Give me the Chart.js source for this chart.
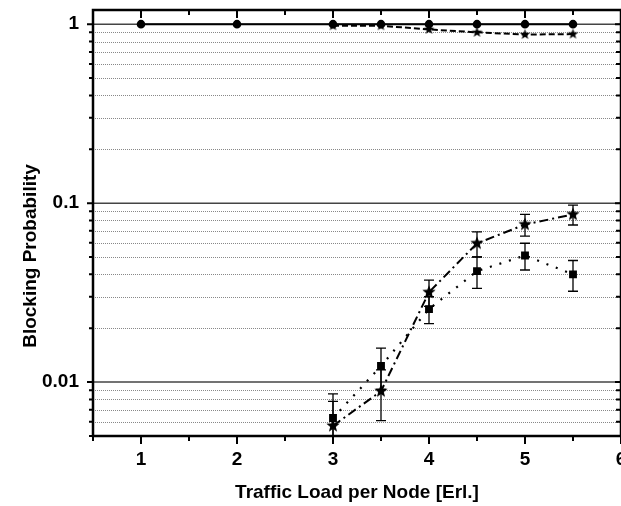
<!DOCTYPE html>
<html>
<head>
<meta charset="utf-8">
<script src="https://cdn.jsdelivr.net/npm/chart.js@4/dist/chart.umd.min.js"></script>
<style>
  body { margin: 0; background: #fff; }
  canvas { display: block; }
</style>
</head>
<body>
<canvas id="chart" width="621" height="506"></canvas>
<script>
// data
const loads = [1, 2, 3, 3.5, 4, 4.5, 5, 5.5];
const upperLoads = [3, 3.5, 4, 4.5, 5, 5.5];
const lowerLoads = [3, 3.5, 4, 4.5, 5, 5.5];

const circleSeries = [1, 1, 1, 1, 1, 1, 1, 1];
const upperStarSeries = [0.98, 0.98, 0.935, 0.9, 0.875, 0.88];
const lowerStarSeries = [0.0057, 0.0089, 0.0318, 0.0596, 0.076, 0.0865];
const squareSeries = [0.0063, 0.0123, 0.0256, 0.0417, 0.051, 0.040];

const lowerStarErr = [0.0021, 0.0028, 0.0053, 0.0095, 0.0105, 0.011];
const squareErr = [0.0023, 0.0032, 0.0044, 0.0083, 0.0087, 0.0078];

const xTicks = [1, 2, 3, 4, 5, 6];
const xMinorTicks = [0.5, 1.5, 2.5, 3.5, 4.5, 5.5];
const yMajorTicks = [0.01, 0.1, 1];
const yTickLabels = ['0.01', '0.1', '1'];
const yMinorTicks = [0.005, 0.006, 0.007, 0.008, 0.009,
                     0.02, 0.03, 0.04, 0.05, 0.06, 0.07, 0.08, 0.09,
                     0.2, 0.3, 0.4, 0.5, 0.6, 0.7, 0.8, 0.9];

const FONT = "'Liberation Sans', Arial, sans-serif";

function makeStar(r) {
    const c = document.createElement('canvas');
    const s = Math.ceil(r * 2 + 2);
    c.width = s; c.height = s;
    const g = c.getContext('2d');
    g.beginPath();
    for (let i = 0; i < 10; i++) {
        const rad = i % 2 === 0 ? r : r * 0.42;
        const a = -Math.PI / 2 + i * Math.PI / 5;
        const px = s / 2 + rad * Math.cos(a);
        const py = s / 2 + rad * Math.sin(a);
        if (i === 0) g.moveTo(px, py); else g.lineTo(px, py);
    }
    g.closePath();
    g.fillStyle = '#000';
    g.fill();
    return c;
}

const toXY = (xs, ys) => xs.map((x, i) => ({ x: x, y: ys[i] }));

const frame = {
    id: 'frame',
    beforeDatasetsDraw(chart) {
        const { ctx, chartArea: a, scales: { y } } = chart;
        ctx.save();
        // minor dotted grid
        ctx.strokeStyle = '#888';
        ctx.lineWidth = 1;
        ctx.setLineDash([1, 1]);
        yMinorTicks.forEach(v => {
            const py = Math.round(y.getPixelForValue(v)) + 0.5;
            ctx.beginPath(); ctx.moveTo(a.left, py); ctx.lineTo(a.right, py); ctx.stroke();
        });
        ctx.setLineDash([]);
        ctx.strokeStyle = '#444';
        ctx.lineWidth = 1.5;
        yMajorTicks.forEach(v => {
            const py = y.getPixelForValue(v);
            ctx.beginPath(); ctx.moveTo(a.left, py); ctx.lineTo(a.right, py); ctx.stroke();
        });
        ctx.restore();
    },
    afterDraw(chart) {
        const { ctx, chartArea: a, scales: { x, y } } = chart;
        ctx.save();
        ctx.strokeStyle = '#000';
        ctx.lineWidth = 2;
        // x ticks: bottom outward, top inward
        xTicks.forEach(v => {
            const px = x.getPixelForValue(v);
            ctx.beginPath();
            ctx.moveTo(px, a.bottom); ctx.lineTo(px, a.bottom + 8);
            ctx.moveTo(px, a.top); ctx.lineTo(px, a.top + 8);
            ctx.stroke();
        });
        xMinorTicks.forEach(v => {
            const px = x.getPixelForValue(v);
            ctx.beginPath();
            ctx.moveTo(px, a.bottom); ctx.lineTo(px, a.bottom + 5);
            ctx.moveTo(px, a.top); ctx.lineTo(px, a.top + 5);
            ctx.stroke();
        });
        yMajorTicks.forEach(v => {
            const py = y.getPixelForValue(v);
            ctx.beginPath();
            ctx.moveTo(a.left - 6, py); ctx.lineTo(a.left, py);
            ctx.moveTo(a.right - 6, py); ctx.lineTo(a.right, py);
            ctx.stroke();
        });
        yMinorTicks.forEach(v => {
            const py = y.getPixelForValue(v);
            ctx.beginPath();
            ctx.moveTo(a.left - 4, py); ctx.lineTo(a.left + 1, py);
            ctx.moveTo(a.right - 5, py); ctx.lineTo(a.right, py);
            ctx.stroke();
        });
        // box
        ctx.lineWidth = 2.5;
        ctx.strokeRect(a.left, a.top, a.right - a.left, a.bottom - a.top);

        // axis titles
        ctx.fillStyle = '#000';
        ctx.font = 'bold 19px ' + FONT;
        ctx.textAlign = 'center';
        ctx.textBaseline = 'middle';
        ctx.fillText('Traffic Load per Node [Erl.]', (a.left + a.right) / 2, 493);
        ctx.translate(31, 256);
        ctx.rotate(-Math.PI / 2);
        ctx.fillText('Blocking Probability', 0, 0);
        ctx.restore();
    }
};

const errorBars = {
    id: 'errorBars',
    afterDatasetsDraw(chart) {
        const { ctx, chartArea: a, scales: { x, y } } = chart;
        ctx.save();
        ctx.beginPath();
        ctx.rect(a.left, a.top, a.right - a.left, a.bottom - a.top);
        ctx.clip();
        ctx.strokeStyle = '#000';
        ctx.lineWidth = 1.3;
        chart.data.datasets.forEach(ds => {
            if (!ds.errors) return;
            ds.data.forEach((p, i) => {
                const e = ds.errors[i];
                const px = x.getPixelForValue(p.x);
                const top = y.getPixelForValue(p.y + e);
                const bot = y.getPixelForValue(Math.max(p.y - e, 0.001));
                ctx.beginPath();
                ctx.moveTo(px, top); ctx.lineTo(px, bot);
                ctx.moveTo(px - 5, top); ctx.lineTo(px + 5, top);
                ctx.moveTo(px - 5, bot); ctx.lineTo(px + 5, bot);
                ctx.stroke();
            });
        });
        ctx.restore();
    }
};

new Chart(document.getElementById('chart'), {
    type: 'line',
    data: {
        datasets: [
            {
                data: toXY(loads, circleSeries),
                borderColor: '#000', backgroundColor: '#000',
                borderWidth: 2, pointStyle: 'circle', pointRadius: 3.3
            },
            {
                data: toXY(upperLoads, upperStarSeries),
                borderColor: '#000', backgroundColor: '#000',
                borderWidth: 2, borderDash: [6, 3],
                pointStyle: makeStar(5.5)
            },
            {
                data: toXY(lowerLoads, lowerStarSeries),
                errors: lowerStarErr,
                borderColor: '#000', backgroundColor: '#000',
                borderWidth: 2, borderDash: [9, 4, 2, 4],
                pointStyle: makeStar(7)
            },
            {
                data: toXY(lowerLoads, squareSeries),
                errors: squareErr,
                borderColor: '#000', backgroundColor: '#000',
                borderWidth: 2.2, borderDash: [2, 8],
                pointStyle: 'rect', pointRadius: 4
            }
        ]
    },
    options: {
        responsive: false,
        animation: false,
        layout: { autoPadding: false, padding: { top: 10, left: 0, right: 0, bottom: 0 } },
        plugins: { legend: { display: false }, tooltip: { enabled: false } },
        scales: {
            x: {
                type: 'linear', min: 0.5, max: 6,
                grid: { display: false },
                border: { display: false },
                afterBuildTicks: s => { s.ticks = xTicks.map(v => ({ value: v })); },
                afterFit: s => { s.height = 70; s.paddingLeft = 0; s.paddingRight = 0; },
                ticks: {
                    padding: 4, color: '#000',
                    font: { family: FONT, size: 19, weight: 'bold' },
                    callback: v => String(v)
                }
            },
            y: {
                type: 'logarithmic', min: 0.005, max: 1.2,
                grid: { display: false },
                border: { display: false },
                afterBuildTicks: s => { s.ticks = yMajorTicks.map(v => ({ value: v })); },
                afterFit: s => { s.width = 93; s.paddingTop = 0; s.paddingBottom = 0; },
                ticks: {
                    padding: 6, color: '#000',
                    font: { family: FONT, size: 19, weight: 'bold' },
                    callback: v => yTickLabels[yMajorTicks.indexOf(v)] || ''
                }
            }
        }
    },
    plugins: [frame, errorBars]
});
</script>
</body>
</html>
